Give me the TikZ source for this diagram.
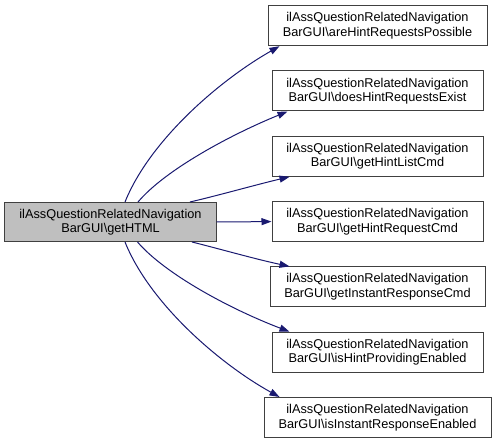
\documentclass[tikz,border=0pt]{standalone}
\usepackage{fontspec}
\setmainfont{Liberation Sans}
\usetikzlibrary{arrows.meta}
\definecolor{edgeblue}{HTML}{191970}
\definecolor{nodeborder}{HTML}{404040}
\definecolor{hlfill}{HTML}{BFBFBF}
\begin{document}
\begin{tikzpicture}[x=1bp,y=-1bp,
  box/.style={draw=nodeborder, line width=1bp, fill=white, align=center, inner sep=0pt,
    minimum height=40bp, font=\fontsize{12.8}{14.5}\selectfont},
  hl/.style={box, fill=hlfill},
  edge/.style={draw=edgeblue, line width=1bp, -{Triangle[length=10bp,width=7bp]}}]
\useasboundingbox (0,0) rectangle (496,444);
\node[hl, minimum width=211bp, minimum height=39bp] (L) at (110.5,222) {ilAssQuestionRelatedNavigation\\BarGUI\textbackslash getHTML};
\node[box, minimum width=219bp] (R1) at (377.5,25.7) {ilAssQuestionRelatedNavigation\\BarGUI\textbackslash areHintRequestsPossible};
\node[box, minimum width=211bp] (R2) at (377.5,91) {ilAssQuestionRelatedNavigation\\BarGUI\textbackslash doesHintRequestsExist};
\node[box, minimum width=211bp] (R3) at (377.5,156.3) {ilAssQuestionRelatedNavigation\\BarGUI\textbackslash getHintListCmd};
\node[box, minimum width=211bp] (R4) at (377.5,221.6) {ilAssQuestionRelatedNavigation\\BarGUI\textbackslash getHintRequestCmd};
\node[box, minimum width=215bp] (R5) at (377.5,286.9) {ilAssQuestionRelatedNavigation\\BarGUI\textbackslash getInstantResponseCmd};
\node[box, minimum width=211bp] (R6) at (377.5,352.2) {ilAssQuestionRelatedNavigation\\BarGUI\textbackslash isHintProvidingEnabled};
\node[box, minimum width=227bp] (R7) at (377.5,417.5) {ilAssQuestionRelatedNavigation\\BarGUI\textbackslash isInstantResponseEnabled};
% edges
\draw[edge] ([xshift=14.5bp]L.north) .. controls (150,140) and (220,80) .. ([xshift=12bp]R1.south west);
\draw[edge] ([xshift=27.5bp]L.north) .. controls (165,170) and (230,135) .. ([xshift=16bp]R2.south west);
\draw[edge] ([xshift=79.5bp]L.north) .. controls (220,195) and (255,185) .. ([xshift=18bp]R3.south west);
\draw[edge] (L.east) -- (R4.west);
\draw[edge] ([xshift=81.5bp]L.south) .. controls (220,249) and (255,259) .. ([xshift=20bp]R5.north west);
\draw[edge] ([xshift=27bp]L.south) .. controls (165,274) and (230,309) .. ([xshift=18bp]R6.north west);
\draw[edge] ([xshift=14.5bp]L.south) .. controls (150,304) and (220,364) .. ([xshift=16bp]R7.north west);
\end{tikzpicture}
\end{document}
